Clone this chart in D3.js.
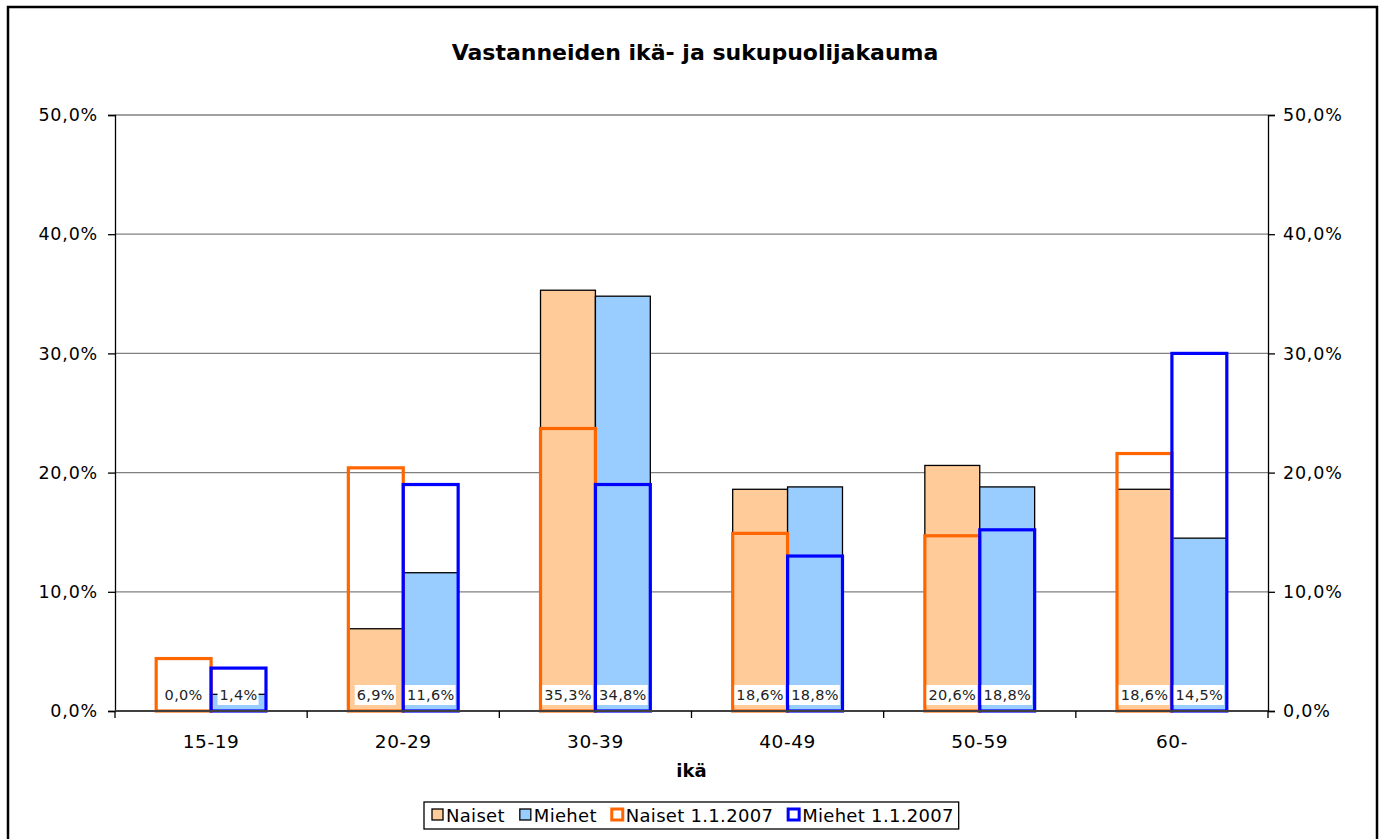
<!DOCTYPE html>
<html>
<head>
<meta charset="utf-8">
<title>Vastanneiden ikä- ja sukupuolijakauma</title>
<script src="https://cdn.jsdelivr.net/npm/d3@7"></script>
<style>
  html, body { margin: 0; padding: 0; background: #fff; }
  svg { display: block; font-family: "DejaVu Sans", Verdana, sans-serif; }
</style>
</head>
<body>
<svg width="1383" height="839"></svg>
<script>
const categories = ['15-19', '20-29', '30-39', '40-49', '50-59', '60-'];
const naiset = [0.0, 6.9, 35.3, 18.6, 20.6, 18.6];
const miehet = [1.4, 11.6, 34.8, 18.8, 18.8, 14.5];
const naiset2007 = [4.4, 20.4, 23.7, 14.9, 14.7, 21.6];
const miehet2007 = [3.6, 19.0, 19.0, 13.0, 15.2, 30.0];
const yTicks = [0, 10, 20, 30, 40, 50];

const svg = d3.select('svg');
const plotLeft = 115, plotRight = 1268, plotTop = 115, plotBottom = 711;

// gap width 150% like the original
const x = d3.scaleBand().domain(categories).range([plotLeft, plotRight])
    .paddingInner(1.5 / 3.5).paddingOuter(0.75 / 3.5);
const xs = d3.scaleBand().domain(['n', 'm']).range([0, x.bandwidth()]);
const y = d3.scaleLinear().domain([0, 50]).range([plotBottom, plotTop]);

const pct = (v) => d3.format('.1f')(v).replace('.', ',') + '%';

// chart frame
svg.append('rect')
    .attr('x', 8).attr('y', 7).attr('width', 1369).attr('height', 850)
    .attr('fill', 'none').attr('stroke', '#000').attr('stroke-width', 2.5);

svg.append('text')
    .attr('x', 695).attr('y', 60)
    .attr('text-anchor', 'middle')
    .attr('font-weight', 'bold').attr('font-size', 22)
    .text('Vastanneiden ikä- ja sukupuolijakauma');

// gridlines
svg.append('g').selectAll('line').data(yTicks.filter((d) => d > 0)).enter()
    .append('line')
    .attr('x1', plotLeft).attr('x2', plotRight)
    .attr('y1', (d) => y(d)).attr('y2', (d) => y(d))
    .attr('stroke', '#808080').attr('stroke-width', 1.3);

// axes
const leftAxis = d3.axisLeft(y).tickValues(yTicks).tickFormat(pct).tickSize(7).tickPadding(10);
const rightAxis = d3.axisRight(y).tickValues(yTicks).tickFormat(pct).tickSize(7).tickPadding(8);

[[leftAxis, plotLeft], [rightAxis, plotRight]].forEach(([axis, pos]) => {
    const g = svg.append('g').attr('transform', `translate(${pos},0)`).call(axis);
    g.select('.domain').attr('stroke', '#000').attr('stroke-width', 1.3);
    g.selectAll('.tick line').attr('stroke', '#000').attr('stroke-width', 1.3);
    g.selectAll('.tick text').attr('font-size', 17.5).attr('letter-spacing', 0.8).attr('fill', '#000')
        .attr('font-family', '"DejaVu Sans", Verdana, sans-serif');
});

// bars with fill
const groups = svg.append('g').selectAll('g').data(categories).enter()
    .append('g').attr('transform', (d) => `translate(${x(d)},0)`);

groups.append('rect')
    .attr('x', xs('n')).attr('width', xs.bandwidth())
    .attr('y', (d, i) => y(naiset[i])).attr('height', (d, i) => plotBottom - y(naiset[i]))
    .attr('fill', '#ffcc99').attr('stroke', '#000').attr('stroke-width', 1.3);
groups.append('rect')
    .attr('x', xs('m')).attr('width', xs.bandwidth())
    .attr('y', (d, i) => y(miehet[i])).attr('height', (d, i) => plotBottom - y(miehet[i]))
    .attr('fill', '#99ccff').attr('stroke', '#000').attr('stroke-width', 1.3);

// 1.1.2007 outline bars
groups.append('rect')
    .attr('x', xs('n')).attr('width', xs.bandwidth())
    .attr('y', (d, i) => y(naiset2007[i])).attr('height', (d, i) => plotBottom - y(naiset2007[i]))
    .attr('fill', 'none').attr('stroke', '#ff6600').attr('stroke-width', 3.2);
groups.append('rect')
    .attr('x', xs('m')).attr('width', xs.bandwidth())
    .attr('y', (d, i) => y(miehet2007[i])).attr('height', (d, i) => plotBottom - y(miehet2007[i]))
    .attr('fill', 'none').attr('stroke', '#0000ff').attr('stroke-width', 3.2);

// x axis
svg.append('line')
    .attr('x1', plotLeft).attr('x2', plotRight).attr('y1', plotBottom).attr('y2', plotBottom)
    .attr('stroke', '#404040').attr('stroke-width', 2);
svg.append('g').selectAll('line').data(d3.range(categories.length + 1)).enter()
    .append('line')
    .attr('x1', (i) => plotLeft + i * x.step()).attr('x2', (i) => plotLeft + i * x.step())
    .attr('y1', plotBottom).attr('y2', plotBottom + 7)
    .attr('stroke', '#000').attr('stroke-width', 1.3);
svg.append('g').selectAll('text').data(categories).enter()
    .append('text')
    .attr('x', (d) => x(d) + x.bandwidth() / 2).attr('y', plotBottom + 37)
    .attr('text-anchor', 'middle').attr('font-size', 18.5).attr('letter-spacing', 0.6)
    .text((d) => d);

// data labels at bar base
const labelSets = [['n', naiset], ['m', miehet]];
labelSets.forEach(([key, values]) => {
    const lab = groups.append('g')
        .attr('transform', (d) => `translate(${xs(key) + xs.bandwidth() / 2},${plotBottom - 16})`);
    lab.append('text')
        .attr('text-anchor', 'middle').attr('dy', '0.36em').attr('font-size', 14.5)
        .attr('letter-spacing', 0.3).attr('fill', '#222')
        .text((d, i) => pct(values[i]));
    lab.each(function () {
        const t = d3.select(this).select('text').node().getBBox();
        d3.select(this).insert('rect', 'text')
            .attr('x', t.x - 2).attr('width', t.width + 3)
            .attr('y', -10).attr('height', 20)
            .attr('fill', '#fff');
    });
});

svg.append('text')
    .attr('x', (plotLeft + plotRight) / 2).attr('y', 777)
    .attr('text-anchor', 'middle').attr('font-weight', 'bold').attr('font-size', 18)
    .text('ikä');

// legend
const legendItems = [
    { label: 'Naiset', fill: '#ffcc99', stroke: '#000', sw: 1.3 },
    { label: 'Miehet', fill: '#99ccff', stroke: '#000', sw: 1.3 },
    { label: 'Naiset 1.1.2007', fill: '#fff', stroke: '#ff6600', sw: 3 },
    { label: 'Miehet 1.1.2007', fill: '#fff', stroke: '#0000ff', sw: 3 }
];
const legendG = svg.append('g');
const legendBox = legendG.append('rect')
    .attr('y', 802).attr('height', 27)
    .attr('fill', '#fff').attr('stroke', '#000').attr('stroke-width', 1.3);
let lx = 431;
legendItems.forEach((item) => {
    legendG.append('rect')
        .attr('x', lx + 1).attr('y', 809).attr('width', 11).attr('height', 11)
        .attr('fill', item.fill).attr('stroke', item.stroke).attr('stroke-width', item.sw);
    const t = legendG.append('text')
        .attr('x', lx + 15).attr('y', 822).attr('font-size', 18).attr('letter-spacing', 0.3)
        .text(item.label);
    lx += 15 + t.node().getComputedTextLength() + 14;
});
legendBox.attr('x', 424).attr('width', lx - 14 - 424 + 5);
</script>
</body>
</html>
